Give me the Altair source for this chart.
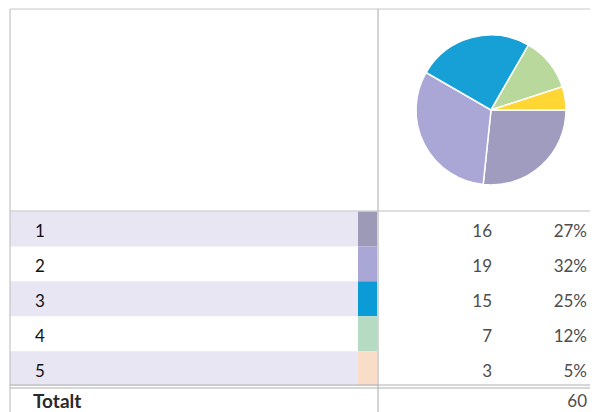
import math
import altair as alt
import pandas as pd

labels = ["1", "2", "3", "4", "5"]
counts = [16, 19, 15, 7, 3]
percents = ["27%", "32%", "25%", "12%", "5%"]
total_label = "Totalt"
total = 60
pie_colors = ["#9f9cbf", "#aaa7d7", "#17a0d6", "#b8d99b", "#ffd633"]
strip_colors = ["#9c9ab6", "#aaa6d6", "#0b9bd7", "#b6dbc3", "#f9ddc8"]

W, H = 582, 404
FONT = "Lato"

df = pd.DataFrame({"label": labels, "count": counts, "pct": percents, "row": list(range(len(labels)))})

ys = alt.Scale(domain=[0, H], nice=False, zero=False, reverse=True)

base = alt.Chart(df).transform_calculate(
    top="204 + 35*datum.row",
    bottom="239 + 35*datum.row",
    ty="225 + 35*datum.row",
)

shade = base.transform_filter("datum.row % 2 == 0").mark_rect(color="#e9e6f3").encode(
    x=alt.value(2), x2=alt.value(350),
    y=alt.Y("top:Q", scale=ys, axis=None), y2="bottom:Q",
)

strip = base.mark_rect().encode(
    x=alt.value(350), x2=alt.value(369),
    y=alt.Y("top:Q", scale=ys, axis=None), y2="bottom:Q",
    color=alt.Color("label:N", scale=alt.Scale(domain=labels, range=strip_colors), legend=None),
)

pie = alt.Chart(df).mark_arc(outerRadius=75, stroke="white", strokeWidth=1.5).encode(
    theta=alt.Theta("count:Q", stack=True, scale=alt.Scale(range=[math.pi / 2, 2.5 * math.pi])),
    color=alt.Color("label:N", scale=alt.Scale(domain=labels, range=pie_colors), legend=None),
    order=alt.Order("row:Q"),
    x=alt.value(483), y=alt.value(102),
)

dummy = pd.DataFrame({"a": [0]})


def hrule(y, x0, x1, color="#b8b8b8", w=1.2):
    return alt.Chart(dummy).mark_rule(color=color, strokeWidth=w).encode(
        x=alt.value(x0), x2=alt.value(x1), y=alt.value(y))


def vrule(x, y0, y1, color="#b8b8b8", w=1.2):
    return alt.Chart(dummy).mark_rule(color=color, strokeWidth=w).encode(
        x=alt.value(x), y=alt.value(y0), y2=alt.value(y1))


rules = [
    hrule(1, 2, W, "#c8c8c8"),
    vrule(2, 1, H, "#c4c4c4"),
    vrule(370, 1, H),
    hrule(203, 2, W, "#c0c0c0"),
    hrule(377, 2, W, "#b0b0b0"),
    hrule(380, 2, W, "#b0b0b0"),
]

lab_text = base.mark_text(align="left", baseline="middle", font=FONT, fontSize=17, color="#111111").encode(
    x=alt.value(27), y=alt.Y("ty:Q", scale=ys, axis=None), text="label:N")

cnt_text = base.mark_text(align="right", baseline="middle", font=FONT, fontSize=17, color="#4d4d4d").encode(
    x=alt.value(484), y=alt.Y("ty:Q", scale=ys, axis=None), text="count:Q")

pct_text = base.mark_text(align="right", baseline="middle", font=FONT, fontSize=17, color="#4d4d4d").encode(
    x=alt.value(579), y=alt.Y("ty:Q", scale=ys, axis=None), text="pct:N")

tot_df = pd.DataFrame({"t": [total_label], "v": [total]})
tot_lab = alt.Chart(tot_df).mark_text(align="left", baseline="middle", font=FONT, fontSize=19,
                                      fontWeight="bold", color="#2a2a2a").encode(
    x=alt.value(25), y=alt.value(394), text="t:N")
tot_val = alt.Chart(tot_df).mark_text(align="right", baseline="middle", font=FONT, fontSize=17,
                                      color="#4d4d4d").encode(
    x=alt.value(579), y=alt.value(394), text="v:Q")

chart = alt.layer(shade, strip, *rules, pie, lab_text, cnt_text, pct_text, tot_lab, tot_val).resolve_scale(
    color="independent"
).properties(
    width=W, height=H, padding=0,
    autosize=alt.AutoSizeParams(type="fit", contains="padding"),
    background="white",
).configure_view(stroke=None)

chart.save("out.html", embed_options={"renderer": "svg", "actions": False})
